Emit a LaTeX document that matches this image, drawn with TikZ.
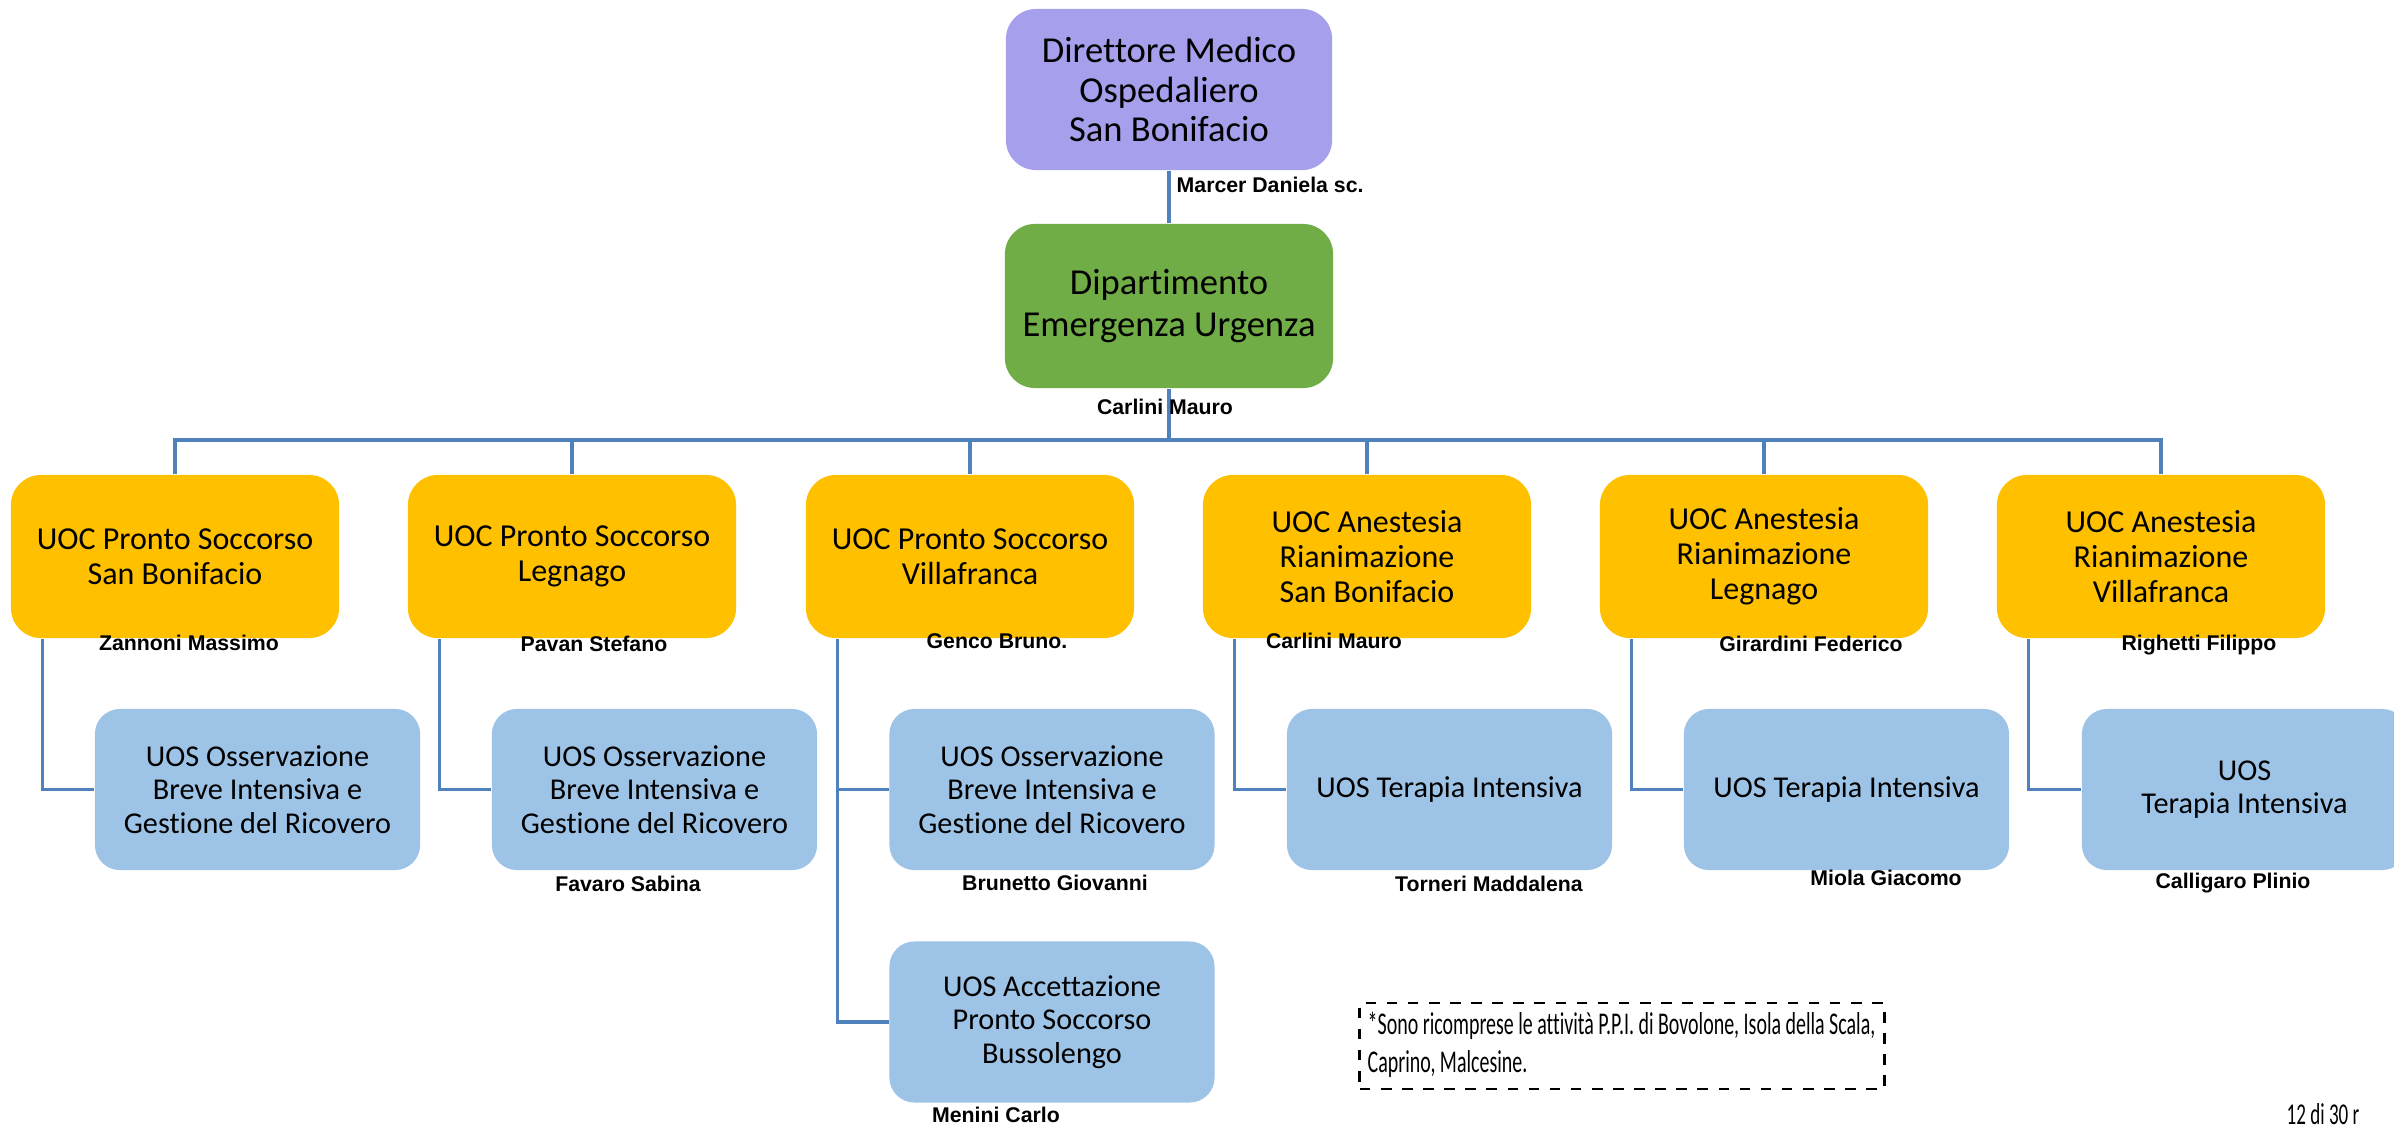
\documentclass[tikz,border=0pt]{standalone}
\usepackage{fontspec}
\setmainfont{Carlito}[Ligatures=NoCommon]
\newfontfamily\namefont{Liberation Sans}
\newfontfamily\notefont{Carlito}[FakeStretch=0.63,Ligatures=NoCommon]
\definecolor{dirpurple}{HTML}{A6A0EC}
\definecolor{depgreen}{HTML}{70AD47}
\definecolor{uocgold}{HTML}{FFC000}
\definecolor{uosblue}{HTML}{9DC3E6}
\definecolor{linkblue}{HTML}{4F81BD}
\begin{document}
\begin{tikzpicture}[x=0.01cm,y=-0.01cm]
            \tikzstyle{unit box}=[rounded corners=0.3cm,align=center,inner sep=0pt]
            \tikzstyle{dir box}=[unit box,fill=dirpurple,minimum width=3.26cm,minimum height=1.61cm,font=\fontsize{10.4}{11.2}\selectfont]
            \tikzstyle{dep box}=[unit box,fill=depgreen,minimum width=3.28cm,minimum height=1.64cm,font=\fontsize{10.4}{12}\selectfont]
            \tikzstyle{uoc box}=[unit box,fill=uocgold,minimum width=3.28cm,minimum height=1.63cm,font=\fontsize{9.1}{10}\selectfont]
            \tikzstyle{uos box}=[unit box,fill=uosblue,rounded corners=0.25cm,minimum width=3.25cm,minimum height=1.61cm,font=\fontsize{8.6}{9.6}\selectfont]
            \tikzstyle{resp label}=[inner sep=0pt,font=\namefont\bfseries\fontsize{6.05}{7}\selectfont]
            \tikzstyle{link}=[draw=linkblue,line width=0.9pt]

            \clip (0,0) rectangle (2394,1127);

            % vertici
            \node(dir)[dir box] at (1169,89.5){Direttore Medico\\Ospedaliero\\San Bonifacio};
            \node(due)[dep box] at (1169,306){Dipartimento\\Emergenza Urgenza};

            % UOC
            \node(uoc1)[uoc box] at (175,556.5){UOC Pronto Soccorso\\San Bonifacio};
            \node(uoc2)[uoc box] at (572,556.5){UOC Pronto Soccorso\\Legnago};
            \node(uoc3)[uoc box] at (970,556.5){UOC Pronto Soccorso\\Villafranca};
            \node(uoc4)[uoc box] at (1367,556.5){UOC Anestesia\\Rianimazione\\San Bonifacio};
            \node(uoc5)[uoc box] at (1764,556.5){UOC Anestesia\\Rianimazione\\Legnago};
            \node(uoc6)[uoc box] at (2161,556.5){UOC Anestesia\\Rianimazione\\Villafranca};

            % UOS
            \node(uos1)[uos box] at (257.5,789.5){UOS Osservazione\\Breve Intensiva e\\Gestione del Ricovero};
            \node(uos2)[uos box] at (654.5,789.5){UOS Osservazione\\Breve Intensiva e\\Gestione del Ricovero};
            \node(uos3)[uos box] at (1052,789.5){UOS Osservazione\\Breve Intensiva e\\Gestione del Ricovero};
            \node(uos3b)[uos box] at (1052,1022){UOS Accettazione\\Pronto Soccorso\\Bussolengo};
            \node(uos4)[uos box] at (1449.5,789.5){UOS Terapia Intensiva};
            \node(uos5)[uos box] at (1846.5,789.5){UOS Terapia Intensiva};
            \node(uos6)[uos box] at (2244.5,789.5){UOS\\Terapia Intensiva};

            % collegamenti
            \coordinate(bus) at (1169,440);
            \foreach \i in {1,...,6}
            \draw[link] (due.south) -- (due.south |- bus) -| (uoc\i.north);
            \draw[link] (dir.south) -- (due.north);
            \foreach \i in {1,2,3,4,5,6}
            \draw[link] ([xshift=0.32cm]uoc\i.south west) |- (uos\i.west);
            \draw[link] ([xshift=0.32cm]uoc3.south west) |- (uos3b.west);

            % responsabili
            \node(n0)[resp label,anchor=west] at (1176,185){Marcer Daniela sc.};
            \node(n1)[resp label] at (1165,407){Carlini Mauro};
            \node(n2)[resp label] at (189,643){Zannoni Massimo};
            \node(n3)[resp label] at (594,644){Pavan Stefano};
            \node(n4)[resp label] at (997,641){Genco Bruno.};
            \node(n5)[resp label] at (1334,641){Carlini Mauro};
            \node(n6)[resp label] at (1811,644){Girardini Federico};
            \node(n7)[resp label] at (2199,645){Righetti Filippo};
            \node(n8)[resp label] at (628,884){Favaro Sabina};
            \node(n9)[resp label] at (1055,883){Brunetto Giovanni};
            \node(n10)[resp label] at (1489,884){Torneri Maddalena};
            \node(n11)[resp label] at (1886,878){Miola Giacomo};
            \node(n12)[resp label] at (2233,883){Calligaro Plinio};
            \node(n13)[resp label] at (996,1115){Menini Carlo};

            % nota
            \node(nota)[draw,dashed,line width=0.8pt,minimum width=5.24cm,minimum height=0.86cm,inner sep=0pt] at (1622,1046){};
            \node(notatxt)[anchor=west,align=left,inner sep=0pt,font=\notefont\fontsize{9}{10.8}\selectfont] at (1367,1045){*Sono ricomprese le attività P.P.I. di Bovolone, Isola della Scala,\\Caprino, Malcesine.};
            \node(pag)[anchor=west,inner sep=0pt,font=\notefont\fontsize{8.6}{10}\selectfont] at (2286,1114){12 di 30 r};
        \end{tikzpicture}
\end{document}
